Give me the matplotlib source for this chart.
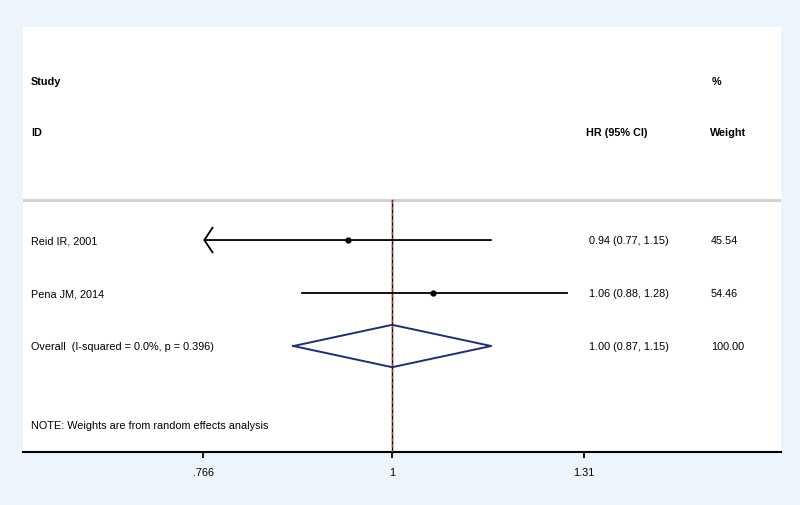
import numpy as np
import matplotlib
matplotlib.use("Agg")
import matplotlib.pyplot as plt

# data
studies = ['Reid IR, 2001', 'Pena JM, 2014']
hr = [0.94, 1.06]
ci_low = [0.77, 0.88]
ci_high = [1.15, 1.28]
weights = [45.54, 54.46]
clipped_left = [True, False]

overall_label = 'Overall  (I-squared = 0.0%, p = 0.396)'
overall_hr = 1.00
overall_low = 0.87
overall_high = 1.15
overall_weight = 100.00

xticks = [0.766, 1.0, 1.31]
xticklabels = ['.766', '1', '1.31']
xmin, xmax = 0.594, 1.731

plt.rcParams['font.family'] = ['Liberation Sans', 'DejaVu Sans']
fs = 7.8
bg = '#EBF5FB'

fig = plt.figure(figsize=(8, 5.06), dpi=100, facecolor=bg)
W, H = 800, 506
ax = fig.add_axes([23 / W, 1 - 453 / H, 758 / W, 425 / H])
ax.set_facecolor('white')
ax.set_xscale('log')
ax.set_xlim(xmin, xmax)
ax.set_ylim(4, -4.02)

for s in ['top', 'left', 'right']:
    ax.spines[s].set_visible(False)
ax.spines['bottom'].set_linewidth(1.5)
ax.set_yticks([])
ax.set_xticks(xticks)
ax.set_xticklabels(xticklabels, fontsize=fs)
ax.xaxis.set_minor_locator(matplotlib.ticker.NullLocator())
ax.tick_params(axis='x', direction='out', length=4.5, width=1.3, pad=6)

tr = ax.get_yaxis_transform()

def colx(px):
    return (px - 23) / 758.0

# headers
ax.text(colx(31), -3, 'Study', transform=tr, fontsize=fs, fontweight='bold', va='center')
ax.text(colx(31), -2.04, 'ID', transform=tr, fontsize=fs, fontweight='bold', va='center')
ax.text(colx(586), -2.04, 'HR (95% CI)', transform=tr, fontsize=fs, fontweight='bold', va='center')
ax.text(colx(712), -3, '%', transform=tr, fontsize=fs, fontweight='bold', va='center')
ax.text(colx(710), -2.04, 'Weight', transform=tr, fontsize=fs, fontweight='bold', va='center')

# separator
ax.axhline(-0.76, color='#cfcfcf', lw=2)

# reference lines
ax.plot([1, 1], [-0.76, 4], color='black', lw=1.0, zorder=2)
ax.plot([overall_hr, overall_hr], [-0.76, 4], color='#b03a2e', lw=1.0,
        dashes=(2.5, 2), zorder=3)

# studies
for i, name in enumerate(studies):
    y = i
    if clipped_left[i]:
        ax.annotate('', xy=(xticks[0], y), xytext=(ci_high[i], y),
                    arrowprops=dict(arrowstyle='->,head_length=0.6,head_width=0.9',
                                    lw=1.3, color='black', shrinkA=0, shrinkB=0))
    else:
        ax.plot([ci_low[i], ci_high[i]], [y, y], color='black', lw=1.3)
    ax.plot(hr[i], y, 'o', color='black', ms=3.5, zorder=4)
    ax.text(colx(31), y, name, transform=tr, fontsize=fs, va='center')
    ax.text(colx(589), y, '%.2f (%.2f, %.2f)' % (hr[i], ci_low[i], ci_high[i]),
            transform=tr, fontsize=fs, va='center')
    ax.text(colx(711), y, '%.2f' % weights[i], transform=tr, fontsize=fs, va='center')

# overall diamond
yo = len(studies)
ax.plot([overall_low, overall_hr, overall_high, overall_hr, overall_low],
        [yo, yo - 0.4, yo, yo + 0.4, yo], color='#1f2d7a', lw=1.4, zorder=4)
ax.text(colx(31), yo, overall_label, transform=tr, fontsize=fs, va='center')
ax.text(colx(589), yo, '%.2f (%.2f, %.2f)' % (overall_hr, overall_low, overall_high),
        transform=tr, fontsize=fs, va='center')
ax.text(colx(711), yo, '%.2f' % overall_weight, transform=tr, fontsize=fs, va='center')

ax.text(colx(31), 3.49, 'NOTE: Weights are from random effects analysis',
        transform=tr, fontsize=fs, va='center')

fig.savefig('out.png', dpi=100, facecolor=bg)
